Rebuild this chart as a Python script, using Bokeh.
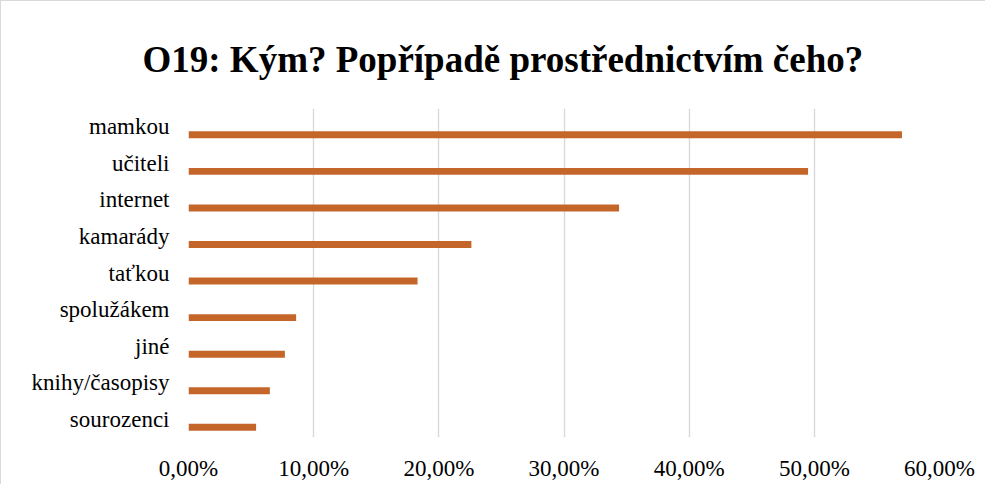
from bokeh.plotting import figure
from bokeh.models import ColumnDataSource, FactorRange, Range1d, FixedTicker, CustomJSTickFormatter
from bokeh.transform import dodge
from bokeh.embed import file_html
from bokeh.resources import INLINE

categories = ["mamkou", "učiteli", "internet", "kamarády", "taťkou",
              "spolužákem", "jiné", "knihy/časopisy", "sourozenci"]
values = [57.0, 49.5, 34.4, 22.6, 18.3, 8.6, 7.7, 6.5, 5.4]
x_ticks = [0, 10, 20, 30, 40, 50, 60]
title_text = "O19: Kým? Popřípadě prostřednictvím čeho?"

SERIF = "Liberation Serif"

source = ColumnDataSource(data=dict(cat=categories, val=values))

p = figure(width=985, height=484, output_backend="svg", toolbar_location=None,
           y_range=FactorRange(factors=list(reversed(categories))),
           x_range=Range1d(0, 60),
           min_border_left=187, min_border_right=47, min_border_bottom=48, min_border_top=107,
           styles={"border-top": "1px solid #d9d9d9", "border-left": "1px solid #d9d9d9"})

p.title.text = title_text
p.title.text_font = SERIF
p.title.text_font_size = "37px"
p.title.text_font_style = "bold"
p.title.text_color = "#000000"
p.title.align = "left"
p.title.offset = -46
p.title.standoff = 57

p.hbar(y=dodge("cat", -0.22, range=p.y_range), left=0, right="val", height=0.19,
       source=source, fill_color="#C4662A", line_color=None)

p.outline_line_color = None
p.background_fill_color = "white"
p.border_fill_color = "white"

p.xgrid.ticker = FixedTicker(ticks=x_ticks)
p.xgrid.grid_line_color = "#d9d9d9"
p.xgrid.grid_line_width = 1.4
p.ygrid.grid_line_color = None

p.xaxis.ticker = FixedTicker(ticks=x_ticks)
p.xaxis.formatter = CustomJSTickFormatter(code="return tick.toFixed(2).replace('.', ',') + '%';")
p.xaxis.axis_line_color = None
p.xaxis.major_tick_line_color = None
p.xaxis.minor_tick_line_color = None
p.xaxis.major_tick_out = 0
p.xaxis.major_tick_in = 0
p.xaxis.major_label_standoff = 18
p.xaxis.major_label_text_font = SERIF
p.xaxis.major_label_text_font_size = "23px"
p.xaxis.major_label_text_color = "#000000"

p.yaxis.axis_line_color = None
p.yaxis.major_tick_line_color = None
p.yaxis.major_tick_out = 0
p.yaxis.major_tick_in = 0
p.yaxis.major_label_standoff = 19
p.yaxis.major_label_text_font = SERIF
p.yaxis.major_label_text_font_size = "23px"
p.yaxis.major_label_text_color = "#000000"

open("out.html", "w").write(file_html(p, INLINE))
